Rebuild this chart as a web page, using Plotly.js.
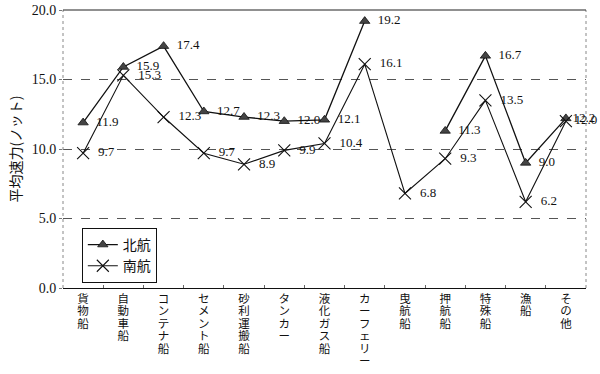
<!DOCTYPE html>
<html><head><meta charset="utf-8">
<script src="https://cdn.plot.ly/plotly-3.0.1.min.js"></script>
<style>html,body{margin:0;padding:0;background:#fff}#c{width:600px;height:374px}</style>
</head><body><div id="c"></div>
<script>
const categories = ['貨物船','自動車船','コンテナ船','セメント船','砂利運搬船','タンカー','液化ガス船','カーフェリー','曳航船','押航船','特殊船','漁船','その他'];
const northValues = [11.9, 15.9, 17.4, 12.7, 12.3, 12.0, 12.1, 19.2, null, 11.3, 16.7, 9.0, 12.2];
const southValues = [9.7, 15.3, 12.3, 9.7, 8.9, 9.9, 10.4, 16.1, 6.8, 9.3, 13.5, 6.2, 12.0];
const seriesNames = ['北航', '南航'];
const yTicks = [0, 5, 10, 15, 20];

const serif = '"Liberation Serif", "DejaVu Serif", serif';
const jp = '"Noto Sans CJK JP", sans-serif';
const vertical = s => Array.from(s).join('<br>');
const pad = '\u00a0\u00a0';
const labelTemplates = categories.map((c, i) => (i === categories.length - 1 ? '' : pad) + '%{y:.1f}');

const north = {
  x: categories, y: northValues, name: seriesNames[0], type: 'scatter',
  mode: 'lines+markers+text', connectgaps: false,
  line: {color: '#111', width: 1.3},
  marker: {symbol: 'triangle-up', size: 9, color: '#444', line: {color: '#111', width: 0.8}},
  texttemplate: labelTemplates, textposition: 'middle right',
  textfont: {family: serif, size: 13, color: '#111'}, cliponaxis: false
};
const south = {
  x: categories, y: southValues, name: seriesNames[1], type: 'scatter',
  mode: 'lines+markers+text',
  line: {color: '#111', width: 1.1},
  marker: {symbol: 'x-thin', size: 12, color: '#111', line: {color: '#111', width: 1.1}},
  texttemplate: labelTemplates, textposition: 'middle right',
  textfont: {family: serif, size: 13, color: '#111'}, cliponaxis: false
};

const layout = {
  width: 600, height: 374,
  margin: {l: 63, r: 14, t: 10, b: 86},
  paper_bgcolor: '#fff', plot_bgcolor: '#fff',
  showlegend: true,
  legend: {x: 0.036, y: 0.216, xanchor: 'left', yanchor: 'top',
    bordercolor: '#111', borderwidth: 1, bgcolor: '#fff',
    font: {family: jp, size: 14, color: '#111'}, tracegroupgap: 0},
  xaxis: {
    type: 'category', tickmode: 'array', tickvals: categories,
    ticktext: categories.map(vertical),
    tickangle: 0, tickfont: {family: jp, size: 11.5, color: '#111'},
    showgrid: false, showline: true, linecolor: '#111', linewidth: 1.2,
    ticks: 'inside', ticklen: 3, tickcolor: '#666', tickson: 'boundaries',
    range: [-0.5, categories.length - 0.5], fixedrange: true
  },
  yaxis: {
    range: [0, 20], tickmode: 'array', tickvals: yTicks,
    ticktext: yTicks.map(v => v.toFixed(1)),
    tickfont: {family: serif, size: 14, color: '#111'},
    showgrid: true, gridcolor: '#555', griddash: 'dash', gridwidth: 1,
    zeroline: false, showline: false,
    ticks: 'outside', ticklen: 3, tickcolor: '#777',
    title: {text: '平均速力(ノット)', font: {family: jp, size: 14, color: '#111'}, standoff: 6},
    fixedrange: true
  },
  shapes: [
    {type: 'line', xref: 'paper', yref: 'paper', x0: 0, x1: 0, y0: 0, y1: 1, line: {color: '#888', width: 1, dash: 'dot'}},
    {type: 'line', xref: 'paper', yref: 'paper', x0: 1, x1: 1, y0: 0, y1: 1, line: {color: '#888', width: 1, dash: 'dot'}},
    {type: 'line', xref: 'paper', yref: 'paper', x0: 0, x1: 1, y0: 1, y1: 1, line: {color: '#222', width: 1.2}}
  ]
};
Plotly.newPlot('c', [north, south], layout, {staticPlot: true, displayModeBar: false}).then(() => {
  document.querySelectorAll('#c .xtick text').forEach(t => {
    t.querySelectorAll('tspan.line').forEach((ts, i) => ts.setAttribute('dy', (i * 1.08) + 'em'));
  });
});
</script></body></html>
